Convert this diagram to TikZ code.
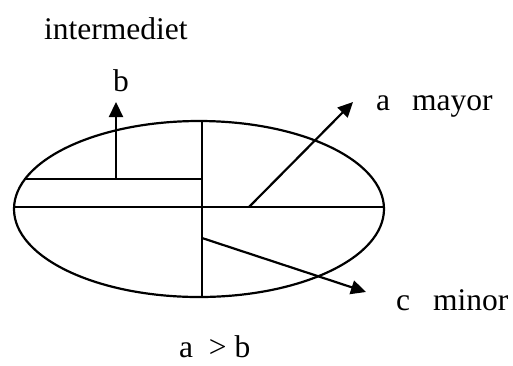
\documentclass[tikz,border=0pt]{standalone}
\usepackage{fontspec}
\setmainfont{Liberation Serif}
\usetikzlibrary{arrows.meta,shapes.geometric}
\tikzset{
  ln/.style={line width=2.2pt, line cap=butt},
  arr/.style={ln, -{Triangle[length=15pt,width=14pt]}},
  lbl/.style={inner sep=0pt, anchor=base west, font=\fontsize{31.5}{36}\selectfont},
}
\begin{document}
\begin{tikzpicture}[x=1pt,y=-1pt]
\useasboundingbox (0,0) rectangle (513,365);
% ellipse
\node[ellipse, draw, ln, minimum width=370pt, minimum height=176pt, inner sep=0pt] (ell) at (199,209) {};
% axes
\coordinate (hl) at (14,207);
\coordinate (hr) at (384,207);
\draw[ln] (hl) -- (hr);
\coordinate (vt) at (202,121);
\coordinate (vb) at (202,297);
\draw[ln] (vt) -- (vb);
\coordinate (ul) at (25,179);
\coordinate (ur) at (202,179);
\draw[ln] (ul) -- (ur);
% arrows
\coordinate (bs) at (116,179);
\coordinate (bt) at (116,102);
\draw[arr] (bs) -- (bt);
\coordinate (as) at (249,207);
\coordinate (at1) at (353,102);
\draw[arr] (as) -- (at1);
\coordinate (cs) at (202,238);
\coordinate (ct) at (366,292);
\draw[arr] (cs) -- (ct);
% labels
\node[lbl] (tint) at (44,39) {intermediet};
\node[lbl] (tb) at (113,91) {b};
\node[lbl] (ta) at (376,110) {a\hspace{22pt}mayor};
\node[lbl] (tc) at (396,310) {c\hspace{23pt}minor};
\node[lbl] (tab) at (179,357) {a\ \ > b};
\end{tikzpicture}
\end{document}
